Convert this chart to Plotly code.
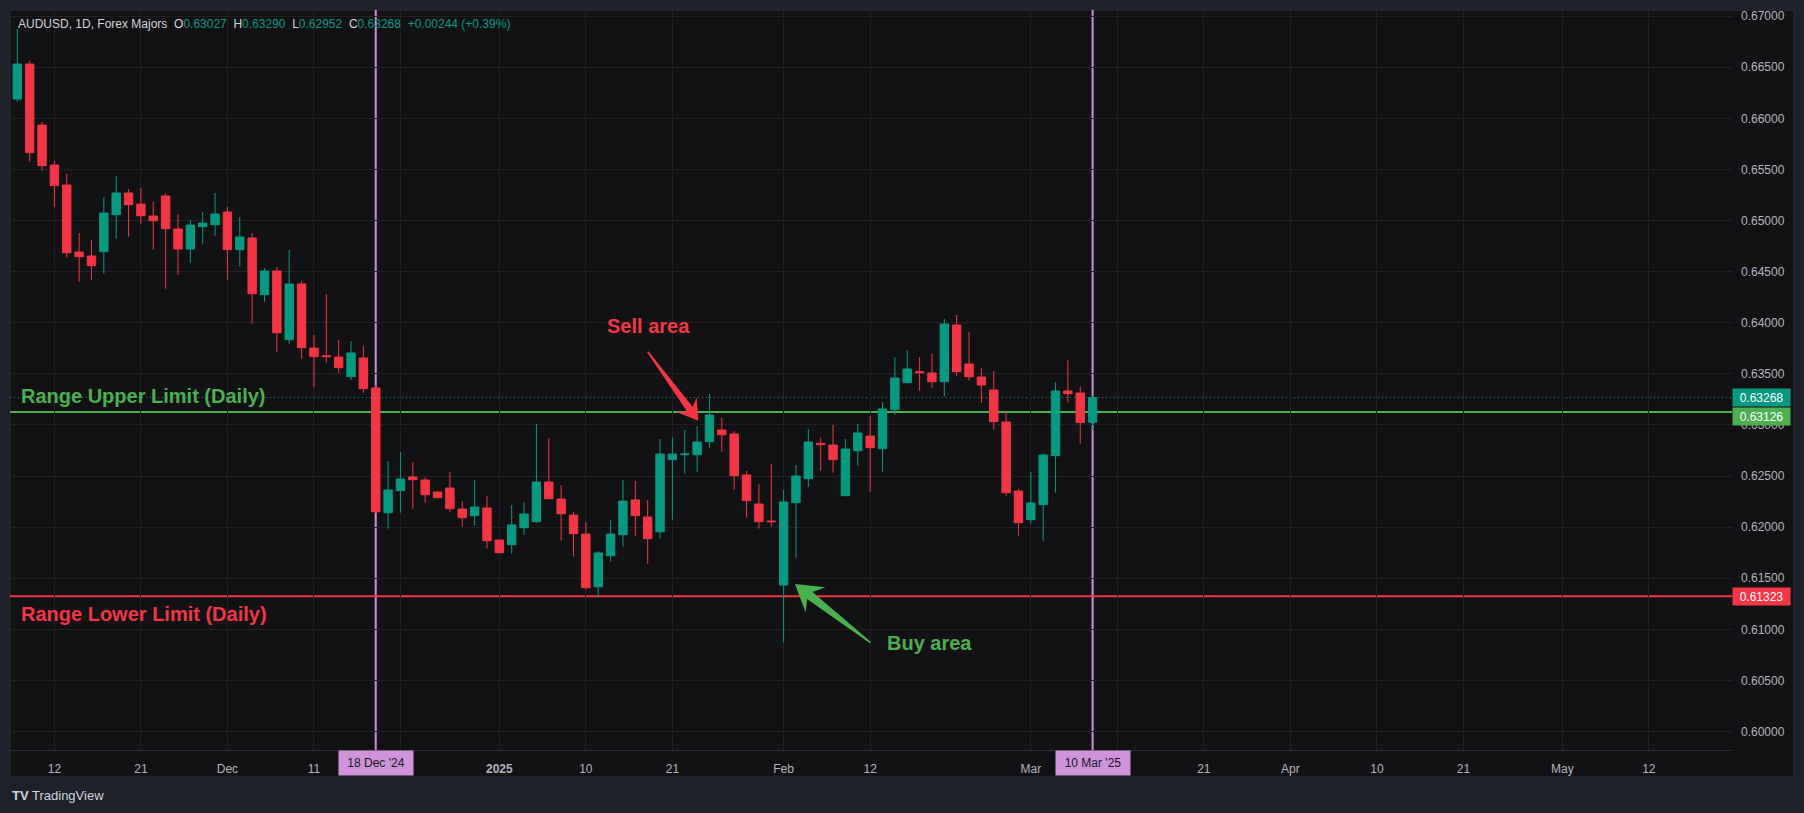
import math
import pandas as pd
import plotly.graph_objects as go

# ---------------- data ----------------
dates = [d.strftime("%Y-%m-%d") for d in pd.bdate_range("2024-11-07", "2025-03-10")]
axis_dates = [d.strftime("%Y-%m-%d") for d in pd.bdate_range("2024-11-07", "2025-05-23")]

opens = [0.66189, 0.66531, 0.65934, 0.65543, 0.65347, 0.64692, 0.64653, 0.64695, 0.65057, 0.65269,
         0.65161, 0.65044, 0.65240, 0.64917, 0.64721, 0.64940, 0.64959, 0.65083, 0.64715, 0.64829,
         0.64274, 0.64506, 0.63834, 0.64379, 0.63752, 0.63677, 0.63664, 0.63472, 0.63655, 0.63361,
         0.62141, 0.62357, 0.62490, 0.62461, 0.62343, 0.62383, 0.62177, 0.62112, 0.62187, 0.61874,
         0.61828, 0.61994, 0.62053, 0.62441, 0.62275, 0.62118, 0.61932, 0.61417, 0.61720, 0.61926,
         0.62265, 0.62099, 0.61955, 0.62660, 0.62709, 0.62709, 0.62836, 0.62950, 0.62911, 0.62510,
         0.62226, 0.62060, 0.61433, 0.62239, 0.62474, 0.62820, 0.62803, 0.62308, 0.62748, 0.62891,
         0.62767, 0.63149, 0.63413, 0.63521, 0.63508, 0.63423, 0.63978, 0.63596, 0.63469, 0.63342,
         0.63028, 0.62353, 0.62073, 0.62220, 0.62699, 0.63332, 0.63312, 0.63027]
highs = [0.66874, 0.66561, 0.65964, 0.65582, 0.65455, 0.64878, 0.64809, 0.65230, 0.65435, 0.65308,
         0.65318, 0.65181, 0.65266, 0.65064, 0.65005, 0.65083, 0.65269, 0.65132, 0.65034, 0.64878,
         0.64535, 0.64545, 0.64711, 0.64408, 0.63880, 0.64281, 0.63831, 0.63821, 0.63772, 0.63390,
         0.62647, 0.62735, 0.62637, 0.62487, 0.62350, 0.62539, 0.62255, 0.62461, 0.62304, 0.61880,
         0.62216, 0.62246, 0.63009, 0.62872, 0.62412, 0.62148, 0.62050, 0.61766, 0.62069, 0.62461,
         0.62451, 0.62265, 0.62862, 0.62882, 0.62950, 0.62989, 0.63302, 0.63068, 0.62940, 0.62549,
         0.62422, 0.62617, 0.62363, 0.62608, 0.62960, 0.62875, 0.62999, 0.62862, 0.63009, 0.63087,
         0.63224, 0.63664, 0.63733, 0.63664, 0.63694, 0.64036, 0.64075, 0.63909, 0.63557, 0.63527,
         0.63133, 0.62373, 0.62539, 0.62722, 0.63420, 0.63635, 0.63371, 0.63290]
lows = [0.66163, 0.65576, 0.65488, 0.65135, 0.64636, 0.64401, 0.64421, 0.64480, 0.64822, 0.64842,
        0.64969, 0.64715, 0.64333, 0.64467, 0.64587, 0.64773, 0.64852, 0.64421, 0.64548, 0.63991,
        0.64206, 0.63717, 0.63795, 0.63648, 0.63368, 0.63609, 0.63511, 0.63439, 0.63315, 0.62135,
        0.61985, 0.62141, 0.62180, 0.62239, 0.62285, 0.62151, 0.62004, 0.62014, 0.61789, 0.61745,
        0.61740, 0.61926, 0.62043, 0.62275, 0.61867, 0.61711, 0.61391, 0.61313, 0.61662, 0.61809,
        0.61916, 0.61642, 0.61887, 0.62073, 0.62523, 0.62542, 0.62777, 0.62738, 0.62363, 0.62092,
        0.61985, 0.62004, 0.60869, 0.61701, 0.62392, 0.62552, 0.62533, 0.62300, 0.62601, 0.62347,
        0.62542, 0.63100, 0.63410, 0.63335, 0.63364, 0.63276, 0.63482, 0.63433, 0.63214, 0.62953,
        0.62308, 0.61916, 0.62034, 0.61867, 0.62337, 0.63218, 0.62816, 0.62952]
closes = [0.66531, 0.65664, 0.65537, 0.65341, 0.64685, 0.64646, 0.64558, 0.65073, 0.65269, 0.65155,
          0.65047, 0.64998, 0.64920, 0.64721, 0.64956, 0.64976, 0.65064, 0.64715, 0.64839, 0.64284,
          0.64506, 0.63902, 0.64379, 0.63756, 0.63668, 0.63668, 0.63560, 0.63704, 0.63355, 0.62151,
          0.62363, 0.62471, 0.62464, 0.62317, 0.62288, 0.62180, 0.62092, 0.62197, 0.61867, 0.61750,
          0.62021, 0.62128, 0.62441, 0.62278, 0.62131, 0.61936, 0.61407, 0.61747, 0.61932, 0.62255,
          0.62112, 0.61887, 0.62715, 0.62715, 0.62715, 0.62833, 0.63097, 0.62904, 0.62503, 0.62259,
          0.62053, 0.62053, 0.62246, 0.62500, 0.62833, 0.62807, 0.62660, 0.62764, 0.62921, 0.62777,
          0.63156, 0.63459, 0.63547, 0.63511, 0.63423, 0.63987, 0.63521, 0.63472, 0.63390, 0.63032,
          0.62337, 0.62043, 0.62236, 0.62706, 0.63332, 0.63306, 0.63024, 0.63268]

tick_dates = ["2024-11-12", "2024-11-21", "2024-12-02", "2024-12-11", "2024-12-20", "2025-01-01",
              "2025-01-10", "2025-01-21", "2025-02-03", "2025-02-12", "2025-03-03", "2025-03-12",
              "2025-03-21", "2025-04-01", "2025-04-10", "2025-04-21", "2025-05-01", "2025-05-12"]
tick_labels = ["12", "21", "Dec", "11", "", "<b>2025</b>", "10", "21", "Feb", "12", "Mar", "",
               "21", "Apr", "10", "21", "May", "12"]
price_ticks = [0.600, 0.605, 0.610, 0.615, 0.620, 0.625, 0.630, 0.635, 0.640, 0.645,
               0.650, 0.655, 0.660, 0.665, 0.670]

upper_limit = 0.63126
lower_limit = 0.61323
last_price = 0.63268
marked_dates = ["2024-12-18", "2025-03-10"]
marked_labels = ["18 Dec '24", "10 Mar '25"]

# ---------------- style ----------------
UP = "#089981"
DOWN = "#F23645"
GREEN = "#4CAF50"
PURPLE = "#CE93D8"
PANE = "#121215"
OUTER = "#1E212A"
GRID = "#212125"
AXTXT = "#B2B5BE"
FONT = "Liberation Sans, Arial, sans-serif"

W, H = 1804, 813
ML, MR, MT, MB = 10, 72, 10, 63
PW, PH = W - ML - MR, H - MT - MB

fig = go.Figure()
fig.add_trace(go.Candlestick(
    x=dates, open=opens, high=highs, low=lows, close=closes,
    increasing=dict(line=dict(color=UP, width=1), fillcolor=UP),
    decreasing=dict(line=dict(color=DOWN, width=1), fillcolor=DOWN),
    whiskerwidth=0, showlegend=False, hoverinfo="skip",
))

shapes = []
# pane background (plot + axes band)
shapes.append(dict(type="rect", xref="paper", yref="paper", x0=0, x1=(W - 10 - ML) / PW,
                   y0=-(777 - (MT + PH)) / PH, y1=1, fillcolor=PANE,
                   line=dict(color="#2A2E39", width=1), layer="below"))
# vertical marker lines
for d in marked_dates:
    shapes.append(dict(type="line", xref="x", yref="paper", x0=d, x1=d, y0=0, y1=1,
                       line=dict(color=PURPLE, width=2), layer="between"))
# range limit lines
shapes.append(dict(type="line", xref="paper", yref="y", x0=0, x1=1, y0=upper_limit, y1=upper_limit,
                   line=dict(color=GREEN, width=2), layer="between"))
shapes.append(dict(type="line", xref="paper", yref="y", x0=0, x1=1, y0=lower_limit, y1=lower_limit,
                   line=dict(color=DOWN, width=2), layer="between"))
# last price dotted line
shapes.append(dict(type="line", xref="paper", yref="y", x0=0, x1=1, y0=last_price, y1=last_price,
                   line=dict(color=UP, width=1, dash="1px,3px"), layer="between"))


def arrow_path(tail_dx, tail_dy, head_len, head_half, base_half, tail_half):
    L = math.hypot(tail_dx, tail_dy)
    dx, dy = -tail_dx / L, -tail_dy / L
    nx, ny = -dy, dx
    nb = 0.72 * head_len
    pts = [
        (tail_dx + nx * tail_half, tail_dy + ny * tail_half),
        (-dx * nb + nx * base_half, -dy * nb + ny * base_half),
        (-dx * head_len + nx * head_half, -dy * head_len + ny * head_half),
        (0, 0),
        (-dx * head_len - nx * head_half, -dy * head_len - ny * head_half),
        (-dx * nb - nx * base_half, -dy * nb - ny * base_half),
        (tail_dx - nx * tail_half, tail_dy - ny * tail_half),
    ]
    return "M " + " L ".join(f"{x:.2f},{-y:.2f}" for x, y in pts) + " Z"


# sell arrow (tip near late-Jan high)
shapes.append(dict(type="path", xref="x", yref="y", xsizemode="pixel", ysizemode="pixel",
                   xanchor=55.1, yanchor=0.63041,
                   path=arrow_path(-50.6, -69.0, 20, 12.5, 3.6, 0.8),
                   fillcolor=DOWN, line=dict(width=0), layer="above"))
# buy arrow (tip near early-Feb low)
shapes.append(dict(type="path", xref="x", yref="y", xsizemode="pixel", ysizemode="pixel",
                   xanchor=62.92, yanchor=0.61443,
                   path=arrow_path(75.5, 58.7, 26, 16, 4.4, 0.8),
                   fillcolor=GREEN, line=dict(width=0), layer="above"))

ann = []
# header legend
g = lambda s: f'<span style="color:#D1D4DC">{s}</span>'
t = lambda s: f'<span style="color:{UP}">{s}</span>'
sp = "\u00a0\u00a0"
header = (g("AUDUSD, 1D, Forex Majors" + sp + "O") + t(f"{opens[-1]:.5f}") + g(sp + "H") + t(f"{highs[-1]:.5f}")
          + g(sp + "L") + t(f"{lows[-1]:.5f}") + g(sp + "C") + t(f"{closes[-1]:.5f}")
          + t(sp + f"+{closes[-1] - closes[-2]:.5f} (+{(closes[-1] - closes[-2]) / closes[-2] * 100:.2f}%)"))
ann.append(dict(xref="paper", yref="paper", x=0, y=1 - 14 / PH, xanchor="left", yanchor="middle",
                xshift=6, text=header, showarrow=False, font=dict(family=FONT, size=12, color="#D1D4DC")))

# range labels
ann.append(dict(xref="paper", yref="y", x=0, y=upper_limit, xanchor="left", yanchor="middle",
                xshift=9, yshift=16, text="<b>Range Upper Limit (Daily)</b>", showarrow=False,
                font=dict(family=FONT, size=20, color=GREEN)))
ann.append(dict(xref="paper", yref="y", x=0, y=lower_limit, xanchor="left", yanchor="middle",
                xshift=9, yshift=-18, text="<b>Range Lower Limit (Daily)</b>", showarrow=False,
                font=dict(family=FONT, size=20, color=DOWN)))
# area labels
ann.append(dict(xref="x", yref="y", x=51.03, y=0.63968, text="<b>Sell area</b>", showarrow=False,
                font=dict(family=FONT, size=20, color=DOWN)))
ann.append(dict(xref="x", yref="y", x=73.84, y=0.60866, text="<b>Buy area</b>", showarrow=False,
                font=dict(family=FONT, size=20, color=GREEN)))

# price axis tags
for price, col, ysh in [(last_price, UP, 0), (upper_limit, GREEN, -4), (lower_limit, DOWN, 0)]:
    ann.append(dict(xref="paper", yref="y", x=1, y=price, xanchor="left", yanchor="middle",
                    yshift=ysh, text=f"{price:.5f}", showarrow=False, bgcolor=col,
                    width=55, height=15, borderpad=1, align="center",
                    font=dict(family=FONT, size=12, color="#FFFFFF")))

# date tags on time axis
for d, lab in zip(marked_dates, marked_labels):
    ann.append(dict(xref="x", yref="paper", x=axis_dates.index(d), y=0, xanchor="center",
                    yanchor="top", text=lab, showarrow=False, bgcolor=PURPLE,
                    width=68, height=18, borderpad=3,
                    font=dict(family=FONT, size=12, color="#131722")))

# TradingView mark
ann.append(dict(xref="paper", yref="paper", x=0, y=-(795 - (MT + PH)) / PH, xanchor="left",
                yanchor="middle", text="<b>TV</b> TradingView", showarrow=False,
                font=dict(family=FONT, size=13, color="#D1D4DC")))

x_left = -(17.3 - ML) / 12.36
x_right = x_left + PW / 12.36

fig.update_layout(
    width=W, height=H,
    margin=dict(l=ML, r=MR, t=MT, b=MB, pad=0),
    paper_bgcolor=OUTER, plot_bgcolor=PANE,
    font=dict(family=FONT, size=12, color=AXTXT),
    showlegend=False, boxgap=0.32, boxgroupgap=0,
    shapes=shapes, annotations=ann,
    xaxis=dict(type="category", categoryorder="array", categoryarray=axis_dates,
               range=[x_left, x_right], tickmode="array", tickvals=tick_dates, ticktext=tick_labels,
               showgrid=True, gridcolor=GRID, gridwidth=1, zeroline=False, ticks="",
               ticklabelstandoff=8, tickfont=dict(family=FONT, size=12, color=AXTXT),
               showline=True, linecolor="#2A2E39", linewidth=1,
               rangeslider=dict(visible=False), fixedrange=True),
    yaxis=dict(side="right", range=[0.59819, 0.67060], tickmode="array", tickvals=price_ticks,
               tickformat=".5f", showgrid=True, gridcolor=GRID, gridwidth=1, zeroline=False,
               ticks="", ticklabelstandoff=8, tickfont=dict(family=FONT, size=12, color=AXTXT),
               showline=False, fixedrange=True),
)

fig.write_html("out.html", config={"displayModeBar": False},
               post_script="document.body.style.margin='0';document.body.style.background='#1E212A';")
